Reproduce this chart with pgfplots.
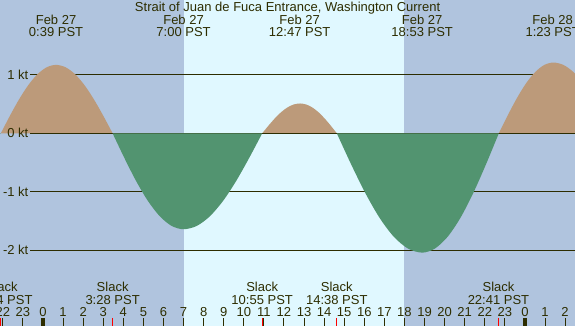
\documentclass[border=0pt]{standalone}
\usepackage{pgfplots}
\pgfplotsset{compat=1.18}
\usepackage{fontspec}
\setmainfont{Liberation Sans}
\definecolor{night}{RGB}{176,196,222}
\definecolor{day}{RGB}{224,248,255}
\definecolor{flood}{RGB}{188,154,122}
\definecolor{ebb}{RGB}{82,148,112}
\definecolor{ink}{RGB}{45,45,0}
\definecolor{slackred}{RGB}{255,0,0}
\begin{document}
\fontsize{13}{15}\selectfont
\begin{tikzpicture}
\begin{axis}[
  scale only axis, width=575pt, height=326pt,
  xmin=-2.141, xmax=26.494, ymin=-3.294, ymax=2.279,
  axis x line*=bottom, axis y line=none,
  x axis line style={draw=none},
  axis on top,
  xtick={-2,...,26},
  xticklabels={22,23,0,1,2,3,4,5,6,7,8,9,10,11,12,13,14,15,16,17,18,19,20,21,22,23,0,1,2},
  tick align=inside, major tick length=8pt,
  xtick style={draw=ink, line width=1pt},
  xticklabel style={anchor=base, yshift=9.3pt, text=ink, inner sep=0pt, font=\fontsize{13}{15}\selectfont},
  clip=true,
]
\fill[night] (axis cs:-3,-3.4) rectangle (axis cs:27,2.4);
\fill[day] (axis cs:7,-3.4) rectangle (axis cs:18,2.4);
% horizontal reference lines
\draw[ink, line width=1pt] (axis cs:-0.647,1) -- (axis cs:27,1);
\draw[ink, line width=1pt] (axis cs:-0.647,0) -- (axis cs:27,0);
\draw[ink, line width=1pt] (axis cs:-0.647,-1) -- (axis cs:27,-1);
\draw[ink, line width=1pt] (axis cs:-0.647,-2) -- (axis cs:27,-2);
% flood lobes
\addplot[fill=flood, draw=none, smooth] coordinates {(-2.1,0) (-1.642,0.303) (-1.183,0.585) (-0.725,0.827) (-0.267,1.013) (0.192,1.130) (0.65,1.17) (1.119,1.130) (1.589,1.013) (2.058,0.827) (2.527,0.585) (2.997,0.303) (3.467,0)} \closedcycle;
\addplot[fill=flood, draw=none, smooth] coordinates {(10.917,0) (11.231,0.132) (11.545,0.255) (11.859,0.361) (12.172,0.442) (12.486,0.493) (12.8,0.51) (13.106,0.493) (13.411,0.442) (13.717,0.361) (14.022,0.255) (14.328,0.132) (14.633,0)} \closedcycle;
\addplot[fill=flood, draw=none, smooth] coordinates {(22.7,0) (23.153,0.313) (23.607,0.605) (24.06,0.856) (24.513,1.048) (24.967,1.169) (25.42,1.21) (25.917,1.169) (26.413,1.048) (26.91,0.856)} \closedcycle;
\draw[ink, line width=1pt] (axis cs:-0.647,0) -- (axis cs:27,0);
% ebb lobes
\addplot[fill=ebb, draw=none] coordinates {(-2.3,-0.06) (-2.1,0)} \closedcycle;
\addplot[fill=ebb, draw=none, smooth] coordinates {(3.467,0) (4.056,-0.424) (4.644,-0.82) (5.233,-1.160) (5.822,-1.420) (6.411,-1.584) (7.0,-1.64) (7.653,-1.584) (8.306,-1.420) (8.958,-1.160) (9.611,-0.82) (10.264,-0.424) (10.917,0)} \closedcycle;
\addplot[fill=ebb, draw=none, smooth] coordinates {(14.633,0) (15.342,-0.528) (16.05,-1.02) (16.758,-1.443) (17.467,-1.767) (18.175,-1.970) (18.883,-2.04) (19.519,-1.970) (20.155,-1.767) (20.792,-1.443) (21.428,-1.02) (22.064,-0.528) (22.7,0)} \closedcycle;
% y labels
\node[anchor=east, text=ink, inner sep=0pt] at (axis cs:-0.72,1) {1 kt};
\node[anchor=east, text=ink, inner sep=0pt] at (axis cs:-0.72,0) {0 kt};
\node[anchor=east, text=ink, inner sep=0pt] at (axis cs:-0.72,-1) {-1 kt};
\node[anchor=east, text=ink, inner sep=0pt] at (axis cs:-0.72,-2) {-2 kt};
% midnight ticks and slack ticks
\draw[ink, line width=4pt] (axis cs:0,-3.157) -- (axis cs:0,-3.4);
\draw[ink, line width=4pt] (axis cs:24,-3.157) -- (axis cs:24,-3.4);
\draw[slackred, line width=1pt] (axis cs:-2.1,-3.157) -- (axis cs:-2.1,-3.4);
\draw[slackred, line width=1pt] (axis cs:3.467,-3.157) -- (axis cs:3.467,-3.4);
\draw[slackred, line width=1pt] (axis cs:10.917,-3.157) -- (axis cs:10.917,-3.4);
\draw[slackred, line width=1pt] (axis cs:14.633,-3.157) -- (axis cs:14.633,-3.4);
\draw[slackred, line width=1pt] (axis cs:22.683,-3.157) -- (axis cs:22.683,-3.4);
% title and max labels
\node[anchor=base, text=ink, inner sep=0pt] at (axis cs:12.18,2.079) {Strait of Juan de Fuca Entrance, Washington Current};
\node[anchor=base, text=ink, inner sep=0pt] at (axis cs:0.65,1.868) {Feb 27};
\node[anchor=base, text=ink, inner sep=0pt] at (axis cs:0.65,1.663) {0:39 PST};
\node[anchor=base, text=ink, inner sep=0pt] at (axis cs:7.0,1.868) {Feb 27};
\node[anchor=base, text=ink, inner sep=0pt] at (axis cs:7.0,1.663) {7:00 PST};
\node[anchor=base, text=ink, inner sep=0pt] at (axis cs:12.783,1.868) {Feb 27};
\node[anchor=base, text=ink, inner sep=0pt] at (axis cs:12.783,1.663) {12:47 PST};
\node[anchor=base, text=ink, inner sep=0pt] at (axis cs:18.883,1.868) {Feb 27};
\node[anchor=base, text=ink, inner sep=0pt] at (axis cs:18.883,1.663) {18:53 PST};
\node[anchor=base, text=ink, inner sep=0pt] at (axis cs:25.383,1.868) {Feb 28};
\node[anchor=base, text=ink, inner sep=0pt] at (axis cs:25.383,1.663) {1:23 PST};
% slack labels
\node[anchor=base, text=ink, inner sep=0pt] at (axis cs:-2.05,-2.708) {Slack};
\node[anchor=base, text=ink, inner sep=0pt] at (axis cs:-2.05,-2.935) {21:54 PST};
\node[anchor=base, text=ink, inner sep=0pt] at (axis cs:3.467,-2.708) {Slack};
\node[anchor=base, text=ink, inner sep=0pt] at (axis cs:3.467,-2.935) {3:28 PST};
\node[anchor=base, text=ink, inner sep=0pt] at (axis cs:10.917,-2.708) {Slack};
\node[anchor=base, text=ink, inner sep=0pt] at (axis cs:10.917,-2.935) {10:55 PST};
\node[anchor=base, text=ink, inner sep=0pt] at (axis cs:14.633,-2.708) {Slack};
\node[anchor=base, text=ink, inner sep=0pt] at (axis cs:14.633,-2.935) {14:38 PST};
\node[anchor=base, text=ink, inner sep=0pt] at (axis cs:22.683,-2.708) {Slack};
\node[anchor=base, text=ink, inner sep=0pt] at (axis cs:22.683,-2.935) {22:41 PST};
\end{axis}
\pgfresetboundingbox
\path[use as bounding box] (current axis.south west) rectangle (current axis.north east);
\end{tikzpicture}
\end{document}
